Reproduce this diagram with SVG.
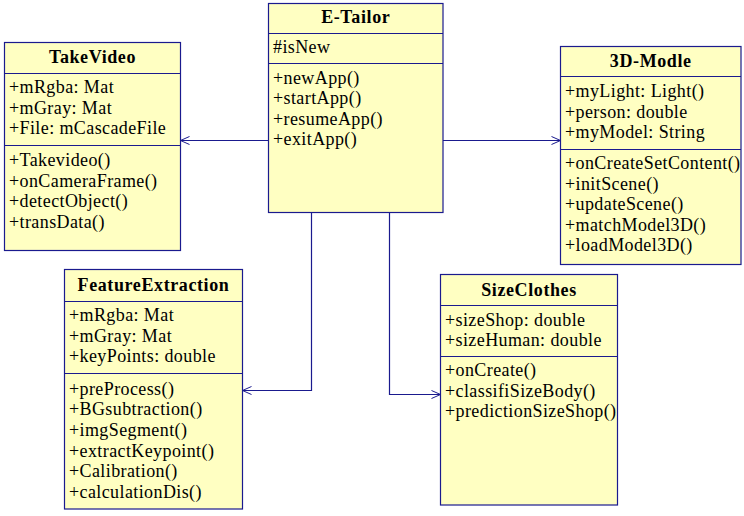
<svg xmlns="http://www.w3.org/2000/svg" width="744" height="516" viewBox="0 0 744 516">
<style>
.box{fill:#FFFFC2;stroke:#1A1A8E;stroke-width:1.2}
.div{stroke:#1A1A8E;stroke-width:1.2;fill:none}
.t{font-family:"Liberation Serif","Times New Roman",serif;font-size:18px;fill:#000;letter-spacing:0.4px}
.h{font-weight:bold;text-anchor:middle;letter-spacing:0.6px}
.c{fill:none;stroke:#1A1A8E;stroke-width:1.2}
</style>
<defs>
<marker id="arr" viewBox="0 0 10 10" refX="10" refY="5" markerWidth="10" markerHeight="10" markerUnits="userSpaceOnUse" orient="auto">
<path d="M1,1 L10,5 L1,9" fill="none" stroke="#1A1A8E" stroke-width="1"/>
</marker>
</defs>
<rect width="744" height="516" fill="#fff"/>
<g id="connectors">
<path class="c" d="M268.5,140.5 H180.5" marker-end="url(#arr)"/>
<path class="c" d="M443,140.5 H560.5" marker-end="url(#arr)"/>
<path class="c" d="M311.5,212.5 V390.5 H242.5" marker-end="url(#arr)"/>
<path class="c" d="M389.5,212.5 V394.5 H440.5" marker-end="url(#arr)"/>
</g>
<g id="TakeVideo">
<rect class="box" x="4.5" y="42.5" width="176" height="208"/>
<path class="div" d="M4.5,73.5 H180.5 M4.5,145.5 H180.5"/>
<text class="t h" x="92.5" y="63">TakeVideo</text>
<text class="t" x="9" y="93">+mRgba: Mat</text>
<text class="t" x="9" y="113.5">+mGray: Mat</text>
<text class="t" x="9" y="134">+File: mCascadeFile</text>
<text class="t" x="9" y="166">+Takevideo()</text>
<text class="t" x="9" y="186.5">+onCameraFrame()</text>
<text class="t" x="9" y="207">+detectObject()</text>
<text class="t" x="9" y="227.5">+transData()</text>
</g>
<g id="ETailor">
<rect class="box" x="268.5" y="3.5" width="174.5" height="209"/>
<path class="div" d="M268.5,33.5 H443 M268.5,63.5 H443"/>
<text class="t h" x="355.75" y="23">E-Tailor</text>
<text class="t" x="273" y="53">#isNew</text>
<text class="t" x="273" y="83.5">+newApp()</text>
<text class="t" x="273" y="104">+startApp()</text>
<text class="t" x="273" y="124.5">+resumeApp()</text>
<text class="t" x="273" y="145">+exitApp()</text>
</g>
<g id="Modle3D">
<rect class="box" x="560.5" y="46.5" width="180.5" height="218"/>
<path class="div" d="M560.5,76.5 H741 M560.5,149.5 H741"/>
<text class="t h" x="650.75" y="67">3D-Modle</text>
<text class="t" x="565" y="97">+myLight: Light()</text>
<text class="t" x="565" y="117.5">+person: double</text>
<text class="t" x="565" y="138">+myModel: String</text>
<text class="t" x="565" y="169">+onCreateSetContent()</text>
<text class="t" x="565" y="189.5">+initScene()</text>
<text class="t" x="565" y="210">+updateScene()</text>
<text class="t" x="565" y="230.5">+matchModel3D()</text>
<text class="t" x="565" y="251">+loadModel3D()</text>
</g>
<g id="FeatureExtraction">
<rect class="box" x="64.5" y="269.5" width="178" height="239.5"/>
<path class="div" d="M64.5,301.5 H242.5 M64.5,373.5 H242.5"/>
<text class="t h" x="153.5" y="291">FeatureExtraction</text>
<text class="t" x="69" y="321">+mRgba: Mat</text>
<text class="t" x="69" y="341.5">+mGray: Mat</text>
<text class="t" x="69" y="362">+keyPoints: double</text>
<text class="t" x="69" y="394.5">+preProcess()</text>
<text class="t" x="69" y="415.2">+BGsubtraction()</text>
<text class="t" x="69" y="435.9">+imgSegment()</text>
<text class="t" x="69" y="456.6">+extractKeypoint()</text>
<text class="t" x="69" y="477.3">+Calibration()</text>
<text class="t" x="69" y="498">+calculationDis()</text>
</g>
<g id="SizeClothes">
<rect class="box" x="440.5" y="274.5" width="177" height="230.5"/>
<path class="div" d="M440.5,305.5 H617.5 M440.5,356.5 H617.5"/>
<text class="t h" x="529" y="296">SizeClothes</text>
<text class="t" x="445" y="325.5">+sizeShop: double</text>
<text class="t" x="445" y="346">+sizeHuman: double</text>
<text class="t" x="445" y="376">+onCreate()</text>
<text class="t" x="445" y="396.5">+classifiSizeBody()</text>
<text class="t" x="445" y="417">+predictionSizeShop()</text>
</g>
</svg>
